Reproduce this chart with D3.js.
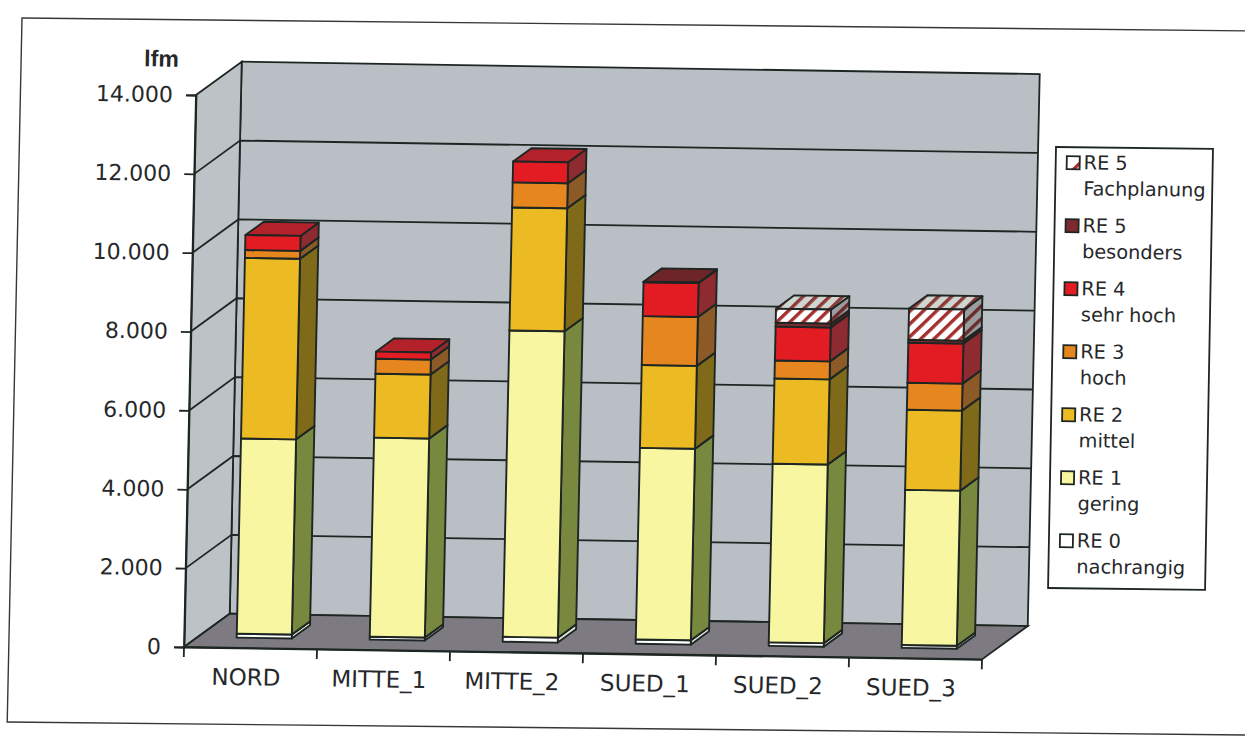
<!DOCTYPE html>
<html>
<head>
<meta charset="utf-8">
<script src="https://cdn.jsdelivr.net/npm/d3@7"></script>
<style>
  html, body { margin: 0; background: #fff; }
  text { font-family: "DejaVu Sans", sans-serif; fill: #26282a; }
</style>
</head>
<body>
<div id="viz"></div>
<script>
const categories = ['NORD', 'MITTE_1', 'MITTE_2', 'SUED_1', 'SUED_2', 'SUED_3'];

const re0 = [100, 75, 125, 110, 90, 75];
const re1 = [4950, 5050, 7770, 4860, 4530, 3935];
const re2 = [4580, 1620, 3120, 2100, 2160, 2030];
const re3 = [200, 380, 635, 1240, 457, 685];
const re4 = [380, 180, 530, 860, 860, 1015];
const re5b = [0, 0, 0, 15, 100, 76];
const re5f = [0, 0, 0, 0, 355, 790];

const seriesKeys = ['re0', 're1', 're2', 're3', 're4', 're5b', 're5f'];
const seriesValues = { re0, re1, re2, re3, re4, re5b, re5f };
const legendLabels = [
  ['RE 5', 'Fachplanung'],
  ['RE 5', 'besonders'],
  ['RE 4', 'sehr hoch'],
  ['RE 3', 'hoch'],
  ['RE 2', 'mittel'],
  ['RE 1', 'gering'],
  ['RE 0', 'nachrangig']
];
const legendKeys = ['re5f', 're5b', 're4', 're3', 're2', 're1', 're0'];
const yTicks = [0, 2000, 4000, 6000, 8000, 10000, 12000, 14000];

const WIDTH = 1245;
const HEIGHT = 737;
const PLOT_W = 798;
const PLOT_H = 552;
const DEPTH = { x: 45, y: -34 };
const LINE = '#1d2622';

const FILL = {
  re0: '#ffffff', re1: '#f8f6a0', re2: '#ecbb24', re3: '#e6861f',
  re4: '#e31c24', re5b: '#7c2a2f', re5f: 'url(#hatchFront)'
};
const SIDE = {
  re0: '#e4e6d8', re1: '#78893f', re2: '#7f6a1a', re3: '#8c5a26',
  re4: '#8e2b30', re5b: '#5c2024', re5f: 'url(#hatchSide)'
};
const TOP = {
  re0: '#f4f4f0', re1: '#d6d48c', re2: '#c49a22', re3: '#c0701e',
  re4: '#b3222a', re5b: '#6e2528', re5f: 'url(#hatchTop)'
};

const svg = d3.select('#viz').append('svg')
  .attr('width', WIDTH)
  .attr('height', HEIGHT)
  .style('display', 'block');

// hatches for RE 5 Fachplanung
const defs = svg.append('defs');
[['hatchFront', '#ffffff', '#a42f2e'],
  ['hatchSide', '#9a9c9e', '#6b2a2b'],
  ['hatchTop', '#cfd5cf', '#8c3a38'],
  ['hatchSwatch', '#ffffff', '#a42f2e']].forEach(([id, bg, fg]) => {
  const size = id === 'hatchSwatch' ? 16 : 9.2;
  const p = defs.append('pattern')
    .attr('id', id)
    .attr('patternUnits', 'userSpaceOnUse')
    .attr('width', size)
    .attr('height', size)
    .attr('patternTransform', 'rotate(45)');
  p.append('rect').attr('width', size).attr('height', size).attr('fill', bg);
  p.append('rect').attr('width', 3.4).attr('height', size).attr('fill', fg);
});

// scanned page frame
svg.append('g')
  .attr('transform', 'translate(22,18) matrix(1,0.0105,-0.021,1,0,0)')
  .append('rect')
  .attr('width', 1260)
  .attr('height', 704)
  .attr('fill', 'none')
  .attr('stroke', '#33383a')
  .attr('stroke-width', 1.4);

// the scan is slightly skewed, so everything sits in a sheared group
const chart = svg.append('g')
  .attr('transform', 'translate(184,647) matrix(1,0.0155,-0.0217,1,0,0)');

const x = d3.scaleBand()
  .domain(categories)
  .range([0, PLOT_W])
  .paddingInner(0.586)
  .paddingOuter(0.293);
const y = d3.scaleLinear().domain([0, 14000]).range([0, -PLOT_H]);

const poly = pts => `M${pts.map(p => p.join(',')).join('L')}Z`;

// walls and floor
const walls = chart.append('g').attr('stroke', LINE).attr('stroke-width', 1.8);
walls.append('path')
  .attr('fill', '#b9bfc4')
  .attr('d', poly([[DEPTH.x, y(0) + DEPTH.y], [PLOT_W + DEPTH.x, y(0) + DEPTH.y],
    [PLOT_W + DEPTH.x, y(14000) + DEPTH.y], [DEPTH.x, y(14000) + DEPTH.y]]));
walls.append('path')
  .attr('fill', '#bcc2c6')
  .attr('d', poly([[0, y(0)], [DEPTH.x, y(0) + DEPTH.y],
    [DEPTH.x, y(14000) + DEPTH.y], [0, y(14000)]]));
walls.append('path')
  .attr('fill', '#7d7a81')
  .attr('d', poly([[0, y(0)], [PLOT_W, y(0)],
    [PLOT_W + DEPTH.x, y(0) + DEPTH.y], [DEPTH.x, y(0) + DEPTH.y]]));

// gridlines wrap round left and back wall
chart.append('g').selectAll('path')
  .data(yTicks.slice(1, -1))
  .join('path')
  .attr('fill', 'none')
  .attr('stroke', LINE)
  .attr('stroke-width', 1.8)
  .attr('d', d => `M0,${y(d)}L${DEPTH.x},${y(d) + DEPTH.y}L${PLOT_W + DEPTH.x},${y(d) + DEPTH.y}`);

// stacked bars
const rows = categories.map((c, i) => {
  const row = { category: c };
  seriesKeys.forEach((k) => { row[k] = seriesValues[k][i]; });
  return row;
});
const stacked = d3.stack().keys(seriesKeys)(rows);

const BAR_OFF = { x: DEPTH.x * 0.3, y: DEPTH.y * 0.3 };
const BAR_D = { x: DEPTH.x * 0.4, y: DEPTH.y * 0.4 };
const bw = x.bandwidth();

const bars = chart.append('g')
  .attr('stroke', LINE)
  .attr('stroke-width', 1.9)
  .attr('stroke-linejoin', 'round');

const layers = bars.selectAll('g')
  .data(stacked)
  .join('g')
  .selectAll('g')
  .data(s => s.filter(d => d[1] > d[0]).map(d => ({ key: s.key, d })))
  .join('g')
  .attr('transform', v => `translate(${x(v.d.data.category) + BAR_OFF.x},${BAR_OFF.y})`);

layers.append('path')
  .attr('fill', v => SIDE[v.key])
  .attr('d', v => poly([[bw, y(v.d[0])], [bw + BAR_D.x, y(v.d[0]) + BAR_D.y],
    [bw + BAR_D.x, y(v.d[1]) + BAR_D.y], [bw, y(v.d[1])]]));
layers.append('path')
  .attr('fill', v => TOP[v.key])
  .attr('d', v => poly([[0, y(v.d[1])], [BAR_D.x, y(v.d[1]) + BAR_D.y],
    [bw + BAR_D.x, y(v.d[1]) + BAR_D.y], [bw, y(v.d[1])]]));
layers.append('rect')
  .attr('fill', v => FILL[v.key])
  .attr('x', 0)
  .attr('width', bw)
  .attr('y', v => y(v.d[1]))
  .attr('height', v => y(v.d[0]) - y(v.d[1]));

// y axis
const germanFormat = d3.formatLocale({
  decimal: ',', thousands: '.', grouping: [3], currency: ['', ' €']
}).format(',d');

const yAxis = chart.append('g')
  .call(d3.axisLeft(y).tickValues(yTicks).tickFormat(germanFormat).tickSize(10).tickPadding(13));
yAxis.selectAll('path, line').attr('stroke', LINE).attr('stroke-width', 1.8);
yAxis.selectAll('text').attr('font-size', 22).attr('font-family', null);

// x axis: ticks sit on the band edges, labels under the bars
const xAxis = chart.append('g')
  .call(d3.axisBottom(x).tickSize(0).tickPadding(21));
xAxis.select('path').attr('stroke', LINE).attr('stroke-width', 1.8);
xAxis.selectAll('text').attr('font-size', 23).attr('font-family', null).attr('dx', -4);

const edges = d3.range(categories.length + 1).map(i => i * x.step());
chart.append('g').selectAll('line')
  .data(edges)
  .join('line')
  .attr('x1', d => d)
  .attr('x2', d => d)
  .attr('y1', 0)
  .attr('y2', 10)
  .attr('stroke', LINE)
  .attr('stroke-width', 1.8);

chart.append('text')
  .attr('x', -18)
  .attr('y', -580)
  .attr('text-anchor', 'end')
  .attr('font-size', 23)
  .attr('font-weight', 700)
  .style('font-family', '"Liberation Sans", sans-serif')
  .text('lfm');

// legend
const legend = svg.append('g')
  .attr('transform', 'translate(1056,147) matrix(1,0.012,-0.018,1,0,0)');
legend.append('rect')
  .attr('width', 157)
  .attr('height', 441)
  .attr('fill', '#fff')
  .attr('stroke', LINE)
  .attr('stroke-width', 1.8);

const legendY = d3.scalePoint()
  .domain(legendKeys)
  .range([15, 393]);

const items = legend.selectAll('g.item')
  .data(legendKeys)
  .join('g')
  .attr('class', 'item')
  .attr('transform', k => `translate(0,${legendY(k)})`);

items.append('rect')
  .attr('x', 11)
  .attr('y', -6)
  .attr('width', 13)
  .attr('height', 13)
  .attr('fill', k => (k === 're5f' ? 'url(#hatchSwatch)' : FILL[k]))
  .attr('stroke', LINE)
  .attr('stroke-width', 1.8);

items.append('text')
  .attr('x', 28)
  .attr('y', 7)
  .attr('font-size', 19.3)
  .text((k, i) => legendLabels[i][0]);
items.append('text')
  .attr('x', 28)
  .attr('y', 33)
  .attr('font-size', 19.3)
  .text((k, i) => legendLabels[i][1]);
</script>
</body>
</html>
